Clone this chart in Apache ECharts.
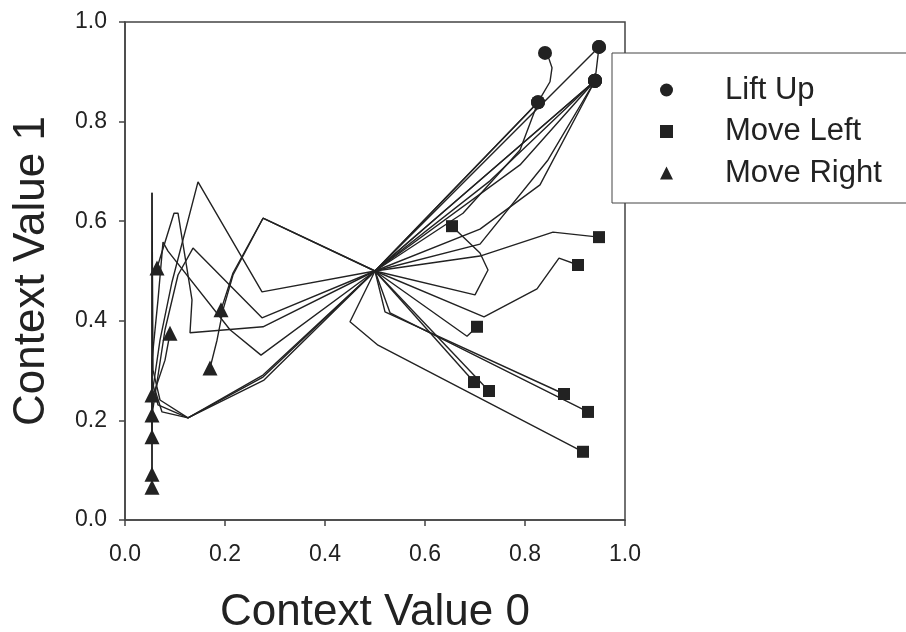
<!DOCTYPE html>
<html>
<head>
<meta charset="utf-8">
<script src="https://cdn.jsdelivr.net/npm/echarts@6/dist/echarts.min.js"></script>
<style>
  html, body { margin: 0; padding: 0; background: #fff; }
  #chart { width: 906px; height: 632px; }
</style>
</head>
<body>
<div id="chart"></div>
<script>
// 轴刻度
const xTicks = [0, 0.2, 0.4, 0.6, 0.8, 1.0]
const yTicks = [0, 0.2, 0.4, 0.6, 0.8, 1.0]

// 轨迹 (Context Value 0, Context Value 1), 每条从 (0.5, 0.5) 出发
const liftUpPaths = [
  [[0.5, 0.5], [0.826, 0.839]],
  [[0.5, 0.5], [0.826, 0.839], [0.85, 0.88], [0.854, 0.908], [0.848, 0.926], [0.84, 0.938]],
  [[0.5, 0.5], [0.676, 0.616], [0.79, 0.743], [0.826, 0.839]],
  [[0.5, 0.5], [0.948, 0.95]],
  [[0.5, 0.5], [0.94, 0.882], [0.948, 0.95]],
  [[0.5, 0.5], [0.94, 0.882]],
  [[0.5, 0.5], [0.73, 0.681], [0.94, 0.882]],
  [[0.5, 0.5], [0.71, 0.584], [0.83, 0.673], [0.94, 0.882]],
  [[0.5, 0.5], [0.71, 0.554], [0.846, 0.723], [0.94, 0.882]],
  [[0.5, 0.5], [0.79, 0.713], [0.94, 0.882]]
]

const moveLeftPaths = [
  [[0.5, 0.5], [0.7, 0.452], [0.726, 0.502], [0.71, 0.536], [0.654, 0.59]],
  [[0.5, 0.5], [0.71, 0.53], [0.856, 0.578], [0.948, 0.568]],
  [[0.5, 0.5], [0.718, 0.408], [0.824, 0.464], [0.868, 0.526], [0.906, 0.512]],
  [[0.5, 0.5], [0.684, 0.369], [0.704, 0.388]],
  [[0.5, 0.5], [0.698, 0.277]],
  [[0.5, 0.5], [0.728, 0.259]],
  [[0.5, 0.5], [0.52, 0.418], [0.878, 0.253]],
  [[0.5, 0.5], [0.53, 0.416], [0.926, 0.217]],
  [[0.5, 0.5], [0.45, 0.398], [0.506, 0.351], [0.916, 0.137]]
]

const moveRightPaths = [
  [[0.5, 0.5], [0.276, 0.606], [0.216, 0.496], [0.192, 0.422]],
  [[0.5, 0.5], [0.276, 0.606], [0.216, 0.492], [0.196, 0.422], [0.184, 0.361], [0.17, 0.305]],
  [[0.5, 0.5], [0.274, 0.458], [0.146, 0.679], [0.094, 0.478], [0.07, 0.361], [0.054, 0.251]],
  [[0.5, 0.5], [0.274, 0.406], [0.136, 0.546], [0.106, 0.492], [0.08, 0.382], [0.054, 0.211]],
  [[0.5, 0.5], [0.276, 0.388], [0.13, 0.376], [0.134, 0.442], [0.106, 0.616], [0.098, 0.616], [0.064, 0.506]],
  [[0.5, 0.5], [0.276, 0.287], [0.126, 0.205], [0.074, 0.217], [0.06, 0.261], [0.08, 0.321], [0.09, 0.375]],
  [[0.5, 0.5], [0.276, 0.291], [0.126, 0.205], [0.07, 0.241], [0.056, 0.301], [0.054, 0.657], [0.054, 0.167]],
  [[0.5, 0.5], [0.272, 0.331], [0.21, 0.382], [0.086, 0.54], [0.076, 0.558], [0.066, 0.442], [0.054, 0.321], [0.054, 0.092]],
  [[0.5, 0.5], [0.278, 0.281], [0.126, 0.205], [0.066, 0.231], [0.054, 0.281], [0.054, 0.657], [0.054, 0.066]]
]

const FONT = 'Liberation Sans, Arial, sans-serif'
const INK = '#222'

// 每条轨迹一个 series, 只在终点画标记
function buildSeries(name, paths, symbol, size) {
  return paths.map(path => ({
    name: name,
    type: 'line',
    symbol: 'none',
    showSymbol: true,
    color: INK,
    lineStyle: { color: INK, width: 1.4 },
    itemStyle: { color: INK },
    emphasis: { disabled: true },
    data: path.map((p, i) =>
      i === path.length - 1 ? { value: p, symbol: symbol, symbolSize: size } : { value: p, symbol: 'none' }
    )
  }))
}

const series = []
  .concat(buildSeries('Lift Up', liftUpPaths, 'circle', 14))
  .concat(buildSeries('Move Left', moveLeftPaths, 'rect', 12))
  .concat(buildSeries('Move Right', moveRightPaths, 'triangle', 15))

const axisCommon = {
  type: 'value',
  min: 0,
  max: 1,
  interval: 0.2,
  nameLocation: 'middle',
  nameTextStyle: { fontSize: 44, color: INK, fontFamily: FONT },
  axisLine: { show: true, lineStyle: { color: '#444', width: 1.5 } },
  axisTick: { show: true, length: 6, lineStyle: { color: '#444', width: 1.5 } },
  splitLine: { show: false },
  axisLabel: {
    fontSize: 23,
    color: INK,
    fontFamily: FONT,
    formatter: v => v.toFixed(1)
  }
}

const chart = echarts.init(document.getElementById('chart'))
chart.setOption({
  animation: false,
  backgroundColor: '#fff',
  textStyle: { fontFamily: FONT },
  grid: {
    left: 125,
    right: 281,
    top: 22,
    bottom: 112,
    outerBoundsMode: 'none',
    containLabel: false,
    show: true,
    borderColor: '#444',
    borderWidth: 1.5
  },
  xAxis: Object.assign({}, axisCommon, {
    name: 'Context Value 0',
    nameGap: 71,
    axisLabel: Object.assign({}, axisCommon.axisLabel, { margin: 23 })
  }),
  yAxis: Object.assign({}, axisCommon, {
    name: 'Context Value 1',
    nameGap: 71,
    axisLabel: Object.assign({}, axisCommon.axisLabel, { margin: 18 })
  }),
  graphic: [
    {
      type: 'rect',
      z: 10,
      shape: { x: 612, y: 53, width: 300, height: 150 },
      style: { fill: '#fff', stroke: '#444', lineWidth: 1 }
    }
  ],
  legend: {
    z: 20,
    orient: 'vertical',
    left: 660,
    top: 73,
    padding: 0,
    itemWidth: 13,
    itemHeight: 13,
    itemGap: 7.5,
    selectedMode: false,
    textStyle: { fontSize: 31, color: INK, fontFamily: FONT, lineHeight: 34, padding: [0, 0, 0, 47] },
    data: [
      { name: 'Lift Up', icon: 'circle' },
      { name: 'Move Left', icon: 'rect' },
      { name: 'Move Right', icon: 'triangle' }
    ]
  },
  series: series
})
</script>
</body>
</html>
